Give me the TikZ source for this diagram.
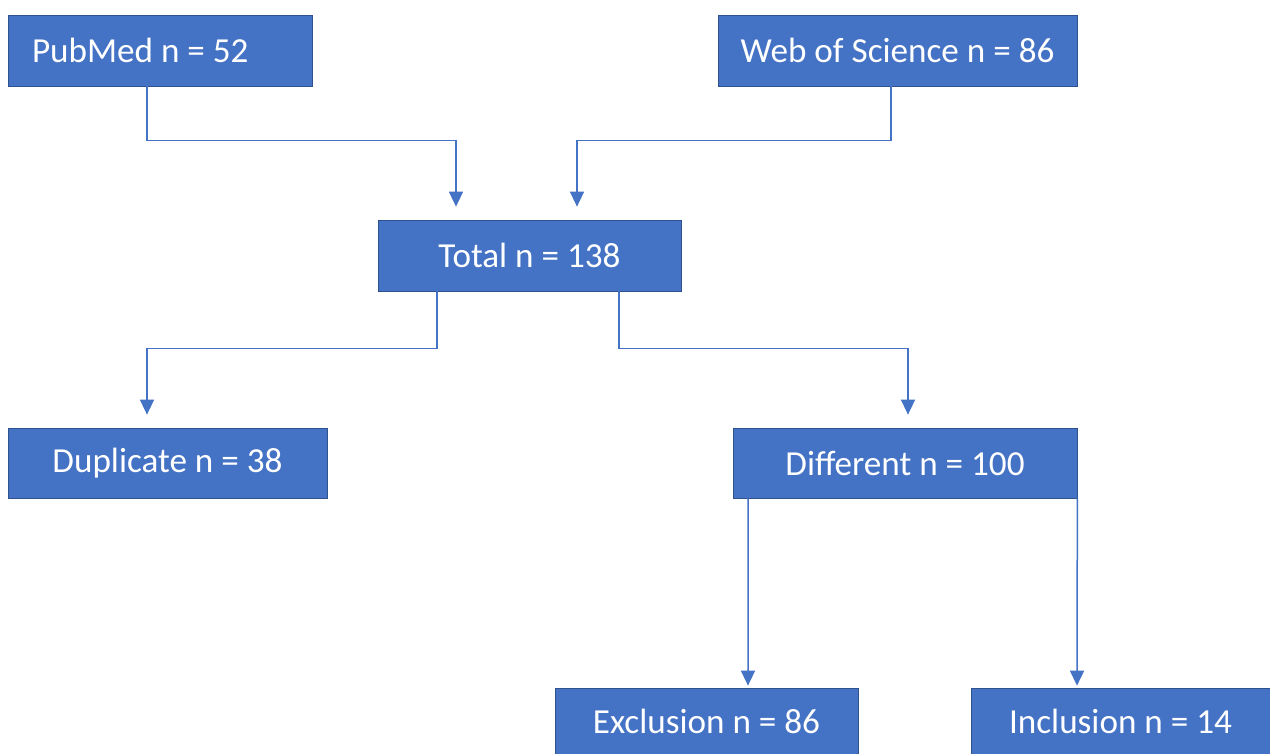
\documentclass[tikz,border=0pt]{standalone}
\usepackage{fontspec}
\setmainfont{Carlito}
\usetikzlibrary{arrows.meta}
\definecolor{boxblue}{HTML}{4472C4}
\definecolor{boxedge}{HTML}{2F528F}
\tikzset{
  blockbox/.style={draw=boxedge, line width=0.4pt, fill=boxblue, text=white,
    font=\fontsize{20}{24}\selectfont, minimum height=1.42cm, inner sep=0cm},
  link/.style={draw=boxblue, line width=0.03cm,
    -{Triangle[width=0.28cm,length=0.3cm]}},
}
\begin{document}
\begin{tikzpicture}
\fill[white] (0,0) rectangle (25.4,15.08);
\useasboundingbox (0,0) rectangle (25.4,15.08);

\node[blockbox, inner xsep=0.48cm, text width=5.12cm, align=flush left] (pubmed) at (3.20,14.07) {PubMed n = 52};
\node[blockbox, minimum width=7.18cm] (wos) at (17.95,14.07) {Web of Science n = 86};
\node[blockbox, minimum width=6.06cm] (total) at (10.59,9.97) {Total n = 138};
\node[blockbox, minimum width=6.38cm, minimum height=1.40cm] (dup) at (3.35,5.82) {Duplicate n = 38};
\node[blockbox, minimum width=6.88cm, minimum height=1.40cm] (diff) at (18.10,5.82) {Different n = 100};
\node[blockbox, minimum width=6.06cm, minimum height=1.32cm] (excl) at (14.13,0.66) {Exclusion n = 86};
\node[blockbox, minimum width=5.98cm, minimum height=1.32cm] (incl) at (22.41,0.66) {Inclusion n = 14};

\draw[link, shorten >=0.26cm] ([xshift=-0.26cm]pubmed.south) -- ++(0,-1.08) -| ([xshift=-1.47cm]total.north);
\draw[link, shorten >=0.26cm] ([xshift=-0.13cm]wos.south) -- ++(0,-1.08) -| ([xshift=0.95cm]total.north);
\draw[link, shorten >=0.26cm] ([xshift=-1.85cm]total.south) -- ++(0,-1.14) -| ([xshift=-0.41cm]dup.north);
\draw[link, shorten >=0.26cm] ([xshift=1.79cm]total.south) -- ++(0,-1.14) -| ([xshift=0.06cm]diff.north);
\draw[link, shorten >=0.04cm] ([xshift=-3.14cm]diff.south) -- ([xshift=0.83cm]excl.north);
\draw[link, shorten >=0.04cm] (diff.south east) -- ([xshift=-0.87cm]incl.north);
\end{tikzpicture}
\end{document}
